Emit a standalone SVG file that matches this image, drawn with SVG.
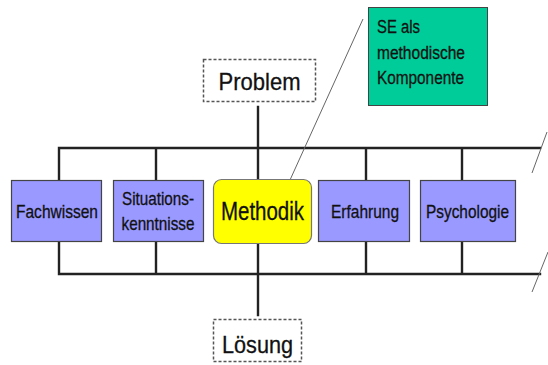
<svg xmlns="http://www.w3.org/2000/svg" width="548" height="365" viewBox="0 0 548 365">
<style>
text{font-family:"Liberation Sans",Arial,sans-serif;fill:#111;stroke:#111;stroke-width:0.3}
.box{fill:#9999FF;stroke:#444;stroke-width:1.2}
.dash{fill:#fff;stroke:#555;stroke-width:1.5;stroke-dasharray:3,2}
.wire{stroke:#222;stroke-width:2.4;fill:none;stroke-linecap:square}
.thin{stroke:#666;stroke-width:1;fill:none}
.s{font-size:19px}
</style>
<rect width="548" height="365" fill="#fff"/>
<g id="connectors">
<path class="wire" d="M59,180V148H540M156,148V180M258,107V180M366,148V180M462,148V180"/>
<path class="wire" d="M59,242V274H540M156,242V274M258,243V315M366,242V274M462,242V274"/>
<path class="thin" d="M547,132L532,173M548,252L532,292"/>
<path class="thin" d="M363,19L290,180"/>
</g>
<g id="problem">
<rect class="dash" x="203.5" y="59.5" width="112" height="42"/>
<text x="259.5" y="90" font-size="24" text-anchor="middle" textLength="82" lengthAdjust="spacingAndGlyphs" stroke-width="0.6">Problem</text>
</g>
<g id="se-callout">
<rect x="368.5" y="7.5" width="119" height="98" fill="#00CC99" stroke="#444" stroke-width="1"/>
<text x="377" y="33" font-size="18" textLength="43" lengthAdjust="spacingAndGlyphs">SE als</text>
<text x="377" y="59" font-size="18" textLength="88" lengthAdjust="spacingAndGlyphs">methodische</text>
<text x="377" y="84" font-size="18" textLength="87" lengthAdjust="spacingAndGlyphs">Komponente</text>
</g>
<g id="fachwissen">
<rect class="box" x="11.5" y="180.5" width="90" height="61"/>
<text class="s" x="57" y="218" text-anchor="middle" textLength="82" lengthAdjust="spacingAndGlyphs">Fachwissen</text>
</g>
<g id="situationskenntnisse">
<rect class="box" x="113.5" y="180.5" width="90" height="61"/>
<text class="s" x="158" y="205" text-anchor="middle" textLength="72" lengthAdjust="spacingAndGlyphs">Situations-</text>
<text class="s" x="158" y="230" text-anchor="middle" textLength="73" lengthAdjust="spacingAndGlyphs">kenntnisse</text>
</g>
<g id="methodik">
<rect x="213.5" y="179.5" width="98" height="64" rx="8" fill="#FFFF00" stroke="#777" stroke-width="1.2"/>
<text x="262.5" y="220" font-size="25" text-anchor="middle" textLength="83" lengthAdjust="spacingAndGlyphs" stroke-width="0.5">Methodik</text>
</g>
<g id="erfahrung">
<rect class="box" x="318.5" y="180.5" width="91" height="61"/>
<text class="s" x="365" y="218" text-anchor="middle" textLength="68" lengthAdjust="spacingAndGlyphs">Erfahrung</text>
</g>
<g id="psychologie">
<rect class="box" x="420.5" y="180.5" width="95" height="61"/>
<text class="s" x="467.5" y="218" text-anchor="middle" textLength="83" lengthAdjust="spacingAndGlyphs">Psychologie</text>
</g>
<g id="loesung">
<rect class="dash" x="213.5" y="319.5" width="88" height="42"/>
<text x="257.5" y="353" font-size="24" text-anchor="middle" textLength="71" lengthAdjust="spacingAndGlyphs" stroke-width="0.6">Lösung</text>
</g>
</svg>
